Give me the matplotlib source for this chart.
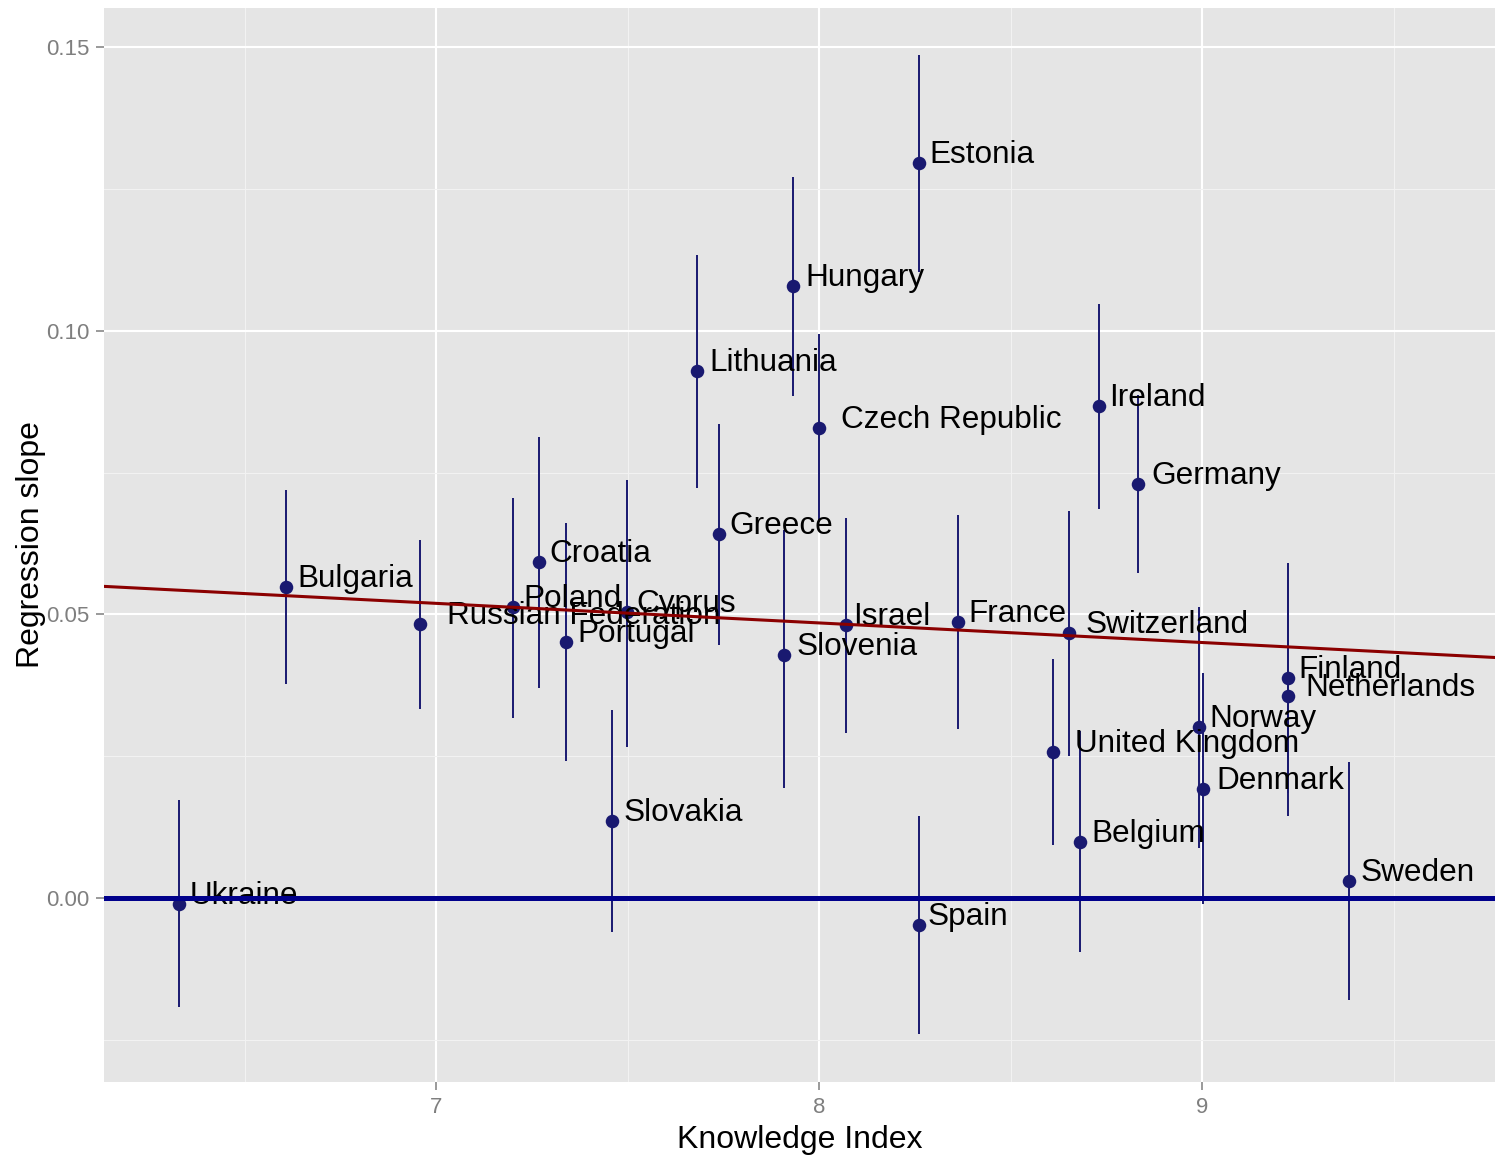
import numpy as np
import matplotlib
matplotlib.use("Agg")
import matplotlib.pyplot as plt
from matplotlib.transforms import ScaledTranslation

plt.rcParams["font.family"] = ["Liberation Sans", "DejaVu Sans"]

countries = ["Ukraine", "Bulgaria", "Russian Federation", "Poland", "Croatia",
             "Portugal", "Slovakia", "Cyprus", "Lithuania", "Greece", "Hungary",
             "Slovenia", "Czech Republic", "Israel", "Estonia", "Spain", "France",
             "United Kingdom", "Switzerland", "Belgium", "Ireland", "Germany",
             "Norway", "Denmark", "Finland", "Netherlands", "Sweden"]
knowledge = [6.329, 6.608, 6.958, 7.201, 7.269, 7.339, 7.459, 7.498, 7.681, 7.739,
             7.932, 7.909, 8.000, 8.070, 8.261, 8.261, 8.363, 8.611, 8.653, 8.682,
             8.731, 8.833, 8.992, 9.003, 9.225, 9.225, 9.384]
slope = [-0.0011, 0.0548, 0.0483, 0.0513, 0.0592, 0.0451, 0.0136, 0.0504, 0.0929,
         0.0641, 0.1079, 0.0428, 0.0828, 0.0481, 0.1295, -0.0048, 0.0486, 0.0257,
         0.0467, 0.0099, 0.0867, 0.0730, 0.0301, 0.0192, 0.0388, 0.0356, 0.0030]
lower = [-0.0192, 0.0377, 0.0333, 0.0317, 0.0370, 0.0241, -0.0060, 0.0266, 0.0723,
         0.0446, 0.0885, 0.0194, 0.0663, 0.0291, 0.1103, -0.0240, 0.0298, 0.0093,
         0.0250, -0.0095, 0.0686, 0.0573, 0.0088, -0.0011, 0.0186, 0.0145, -0.0180]
upper = [0.0173, 0.0719, 0.0631, 0.0705, 0.0813, 0.0661, 0.0331, 0.0737, 0.1133,
         0.0835, 0.1271, 0.0649, 0.0994, 0.0670, 0.1486, 0.0145, 0.0675, 0.0421,
         0.0682, 0.0294, 0.1047, 0.0887, 0.0513, 0.0397, 0.0590, 0.0560, 0.0240]

x = np.array(knowledge)
y = np.array(slope)

fig = plt.figure(figsize=(14.95, 11.55), dpi=100)
ax = fig.add_axes([0.0696, 0.0632, 0.9304, 0.9299])
ax.set_facecolor("#E5E5E5")
for s in ax.spines.values():
    s.set_visible(False)

xlim = (6.133, 9.765)
ax.set_xlim(*xlim)
ax.set_ylim(-0.0324, 0.1569)
ax.set_xticks([7, 8, 9])
ax.set_xticks([6.5, 7.5, 8.5, 9.5], minor=True)
ax.set_yticks([0.0, 0.05, 0.10, 0.15])
ax.set_yticklabels(["0.00", "0.05", "0.10", "0.15"])
ax.set_yticks([-0.025, 0.025, 0.075, 0.125], minor=True)
ax.grid(which="major", color="white", linewidth=1.5)
ax.grid(which="minor", color="#F2F2F2", linewidth=0.75)
ax.set_axisbelow(True)
ax.tick_params(which="major", length=5.5, width=1.1, color="#7F7F7F",
               labelcolor="#7F7F7F", labelsize=16, pad=5)
ax.tick_params(which="minor", length=0)

# confidence intervals and point estimates
ax.vlines(x, lower, upper, color="#191970", linewidth=1.4, zorder=2)
ax.scatter(x, y, s=95, color="#191970", zorder=3, linewidths=0)

# country labels, nudged right by a tenth of their own width
texts = []
for xi, yi, name in zip(x, y, countries):
    t = ax.text(xi, yi, name, fontsize=22.7, ha="left", va="baseline",
                color="black", zorder=4)
    texts.append(t)
fig.canvas.draw()
renderer = fig.canvas.get_renderer()
for t in texts:
    w = t.get_window_extent(renderer).width
    t.set_transform(ax.transData + ScaledTranslation(0.1 * w / fig.dpi, 0,
                                                     fig.dpi_scale_trans))

# least squares fit across countries
b, a = np.polyfit(x, y, 1)
xs = np.array(xlim)
ax.plot(xs, a + b * xs, color="#8B0000", linewidth=2.2, zorder=5)
ax.axhline(0, color="#00008B", linewidth=3.6, zorder=5)

ax.set_xlabel("Knowledge Index", fontsize=23, labelpad=5)
ax.set_ylabel("Regression slope", fontsize=23, labelpad=0)

fig.savefig("out.png", dpi=100)
